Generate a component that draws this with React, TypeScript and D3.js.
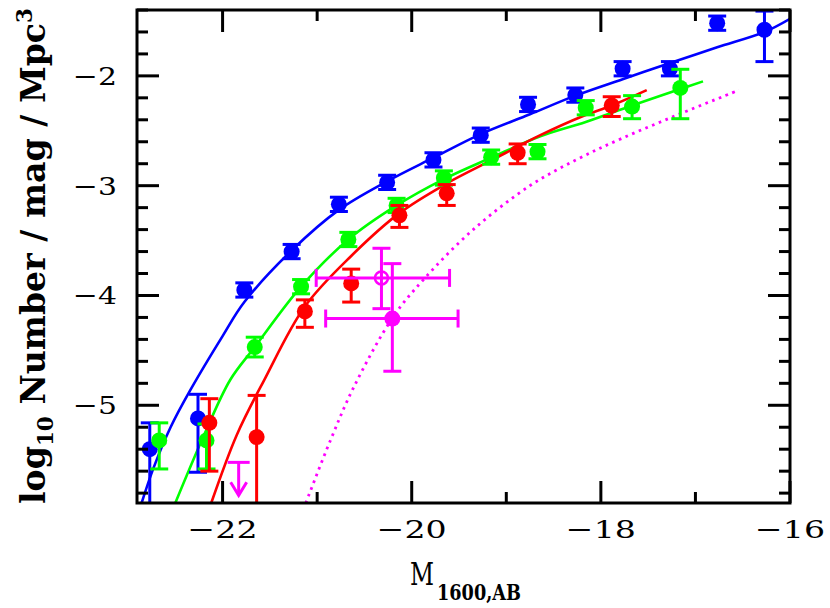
import React from 'react';
import * as d3 from 'd3';

// ---------- axes ----------
const xDomain = [-22.905, -16];
const yDomain = [-5.89, -1.4];
const xTickValues = [-22, -20, -18, -16];
const yTickValues = [-5, -4, -3, -2];

// ---------- blue data ----------
const blueM = [-22.77, -22.26, -21.77, -21.27, -20.77, -20.26, -19.77, -19.27, -18.77, -18.27, -17.77, -17.27, -16.77, -16.27];
const blueLogPhi = [-5.40, -5.12, -3.95, -3.60, -3.17, -2.97, -2.765, -2.54, -2.26, -2.175, -1.935, -1.935, -1.52, -1.58];
const blueHi = [-5.16, -4.90, -3.885, -3.535, -3.105, -2.905, -2.70, -2.475, -2.195, -2.11, -1.87, -1.87, -1.455, -1.41];
const blueLo = [-6.30, -5.61, -4.015, -3.665, -3.235, -3.035, -2.83, -2.605, -2.325, -2.24, -2.00, -2.00, -1.585, -1.87];

// ---------- green data ----------
const greenM = [-22.67, -22.17, -21.66, -21.17, -20.67, -20.16, -19.66, -19.16, -18.67, -18.16, -17.67, -17.16];
const greenLogPhi = [-5.32, -5.32, -4.47, -3.92, -3.49, -3.18, -2.93, -2.74, -2.69, -2.29, -2.28, -2.11];
const greenHi = [-5.16, -5.17, -4.38, -3.855, -3.425, -3.115, -2.865, -2.675, -2.625, -2.225, -2.18, -1.94];
const greenLo = [-5.58, -5.58, -4.56, -3.985, -3.555, -3.245, -2.995, -2.805, -2.755, -2.355, -2.39, -2.39];

// ---------- red data ----------
const redM = [-22.14, -21.64, -21.13, -20.64, -20.13, -19.63, -18.88, -17.885];
const redLogPhi = [-5.16, -5.29, -4.145, -3.89, -3.27, -3.07, -2.70, -2.27];
const redHi = [-4.94, -4.91, -4.04, -3.76, -3.18, -2.99, -2.62, -2.19];
const redLo = [-5.60, -6.50, -4.29, -4.06, -3.38, -3.18, -2.80, -2.37];

// ---------- magenta data ----------
const magM = [-20.32, -20.205];
const magLogPhi = [-3.84, -4.21];
const magMLo = [-21.01, -20.91];
const magMHi = [-19.60, -19.51];
const magHi = [-3.57, -3.71];
const magLo = [-4.12, -4.69];
const magFilled = [false, true];
const magLimitM = [-21.83];
const magLimitLogPhi = [-5.52];
const magLimitArrowTo = [-5.82];

// ---------- fitted curves ----------
const blueFitM = [-22.86, -22.73, -22.55, -22.34, -22.0, -21.77, -21.27, -20.77, -20.26, -19.77, -19.27, -18.75, -18.27, -17.77, -17.26, -16.77, -16.27, -16.0];
const blueFitLogPhi = [-5.90, -5.57, -5.20, -4.86, -4.37, -4.06, -3.59, -3.22, -2.96, -2.745, -2.53, -2.35, -2.18, -2.03, -1.88, -1.74, -1.60, -1.48];
const greenFitM = [-22.50, -22.2, -21.92, -21.66, -21.17, -20.67, -20.16, -19.66, -19.16, -18.64, -18.16, -17.67, -17.16, -16.92];
const greenFitLogPhi = [-5.89, -5.28, -4.77, -4.47, -3.92, -3.49, -3.18, -2.94, -2.745, -2.55, -2.42, -2.27, -2.12, -2.05];
const redFitM = [-22.12, -21.85, -21.56, -21.13, -20.64, -20.13, -19.63, -19.16, -18.64, -18.2, -17.885, -17.515];
const redFitLogPhi = [-5.89, -5.27, -4.77, -4.10, -3.64, -3.25, -2.98, -2.77, -2.54, -2.37, -2.27, -2.13];
const magFitM = [-21.12, -20.86, -20.61, -20.2, -19.87, -19.35, -18.75, -18.25, -17.78, -17.16, -16.54];
const magFitLogPhi = [-5.89, -5.32, -4.83, -4.2, -3.85, -3.40, -3.00, -2.76, -2.57, -2.345, -2.13];

const BLUE = '#0000ff';
const GREEN = '#00ff00';
const RED = '#ff0000';
const MAGENTA = '#ff00ff';

const L = 137, R = 790, T = 10, B = 503;

export default function App() {
  const x = d3.scaleLinear().domain(xDomain).range([L, R]);
  const y = d3.scaleLinear().domain(yDomain).range([B, T]);

  const fit = (ms: number[], ps: number[]) =>
    d3.line<number>()
      .x((_, i) => x(ms[i]))
      .y((_, i) => y(ps[i]))
      .curve(d3.curveCatmullRom.alpha(0.5))(ms) || '';

  const xMinor = x.ticks(9);
  const yMinor = y.ticks(20);
  const isMajor = (v: number, majors: number[]) => majors.some((m) => Math.abs(m - v) < 1e-6);

  const MAJ = 22, MIN = 11;
  const capHalf = 9;
  const r = 8;
  const sw = 3;

  const series = (ms: number[], ps: number[], hi: number[], lo: number[], color: string, key: string) => (
    <g key={key}>
      <g clipPath="url(#plotclip)" stroke={color} strokeWidth={sw} fill="none">
        {ms.map((m, i) => (
          <g key={i}>
            <line x1={x(m)} x2={x(m)} y1={y(hi[i])} y2={y(lo[i])} />
            <line x1={x(m) - capHalf} x2={x(m) + capHalf} y1={y(hi[i])} y2={y(hi[i])} />
            <line x1={x(m) - capHalf} x2={x(m) + capHalf} y1={y(lo[i])} y2={y(lo[i])} />
          </g>
        ))}
      </g>
      {ms.map((m, i) => (
        <circle key={i} cx={x(m)} cy={y(ps[i])} r={r} fill={color} />
      ))}
    </g>
  );

  return (
    <svg width={830} height={608} style={{ position: 'absolute', left: 0, top: 0, background: '#fff' }}>
      <defs>
        <clipPath id="plotclip">
          <rect x={L} y={T} width={R - L} height={B - T} />
        </clipPath>
      </defs>
      <rect x={0} y={0} width={830} height={608} fill="#fff" />

      {/* fitted curves */}
      <g clipPath="url(#plotclip)" fill="none" strokeWidth={2.6}>
        <path d={fit(blueFitM, blueFitLogPhi)} stroke={BLUE} />
        <path d={fit(greenFitM, greenFitLogPhi)} stroke={GREEN} />
        <path d={fit(redFitM, redFitLogPhi)} stroke={RED} />
        <path d={fit(magFitM, magFitLogPhi)} stroke={MAGENTA} strokeWidth={2.8} strokeDasharray="2.6 4.6" />
      </g>

      {series(blueM, blueLogPhi, blueHi, blueLo, BLUE, 'b')}
      {series(greenM, greenLogPhi, greenHi, greenLo, GREEN, 'g')}
      {series(redM, redLogPhi, redHi, redLo, RED, 'r')}

      {/* magenta points */}
      <g stroke={MAGENTA} strokeWidth={sw} fill="none">
        {magM.map((m, i) => (
          <g key={i}>
            <line x1={x(magMLo[i])} x2={x(magMHi[i])} y1={y(magLogPhi[i])} y2={y(magLogPhi[i])} />
            <line x1={x(magMLo[i])} x2={x(magMLo[i])} y1={y(magLogPhi[i]) - capHalf} y2={y(magLogPhi[i]) + capHalf} />
            <line x1={x(magMHi[i])} x2={x(magMHi[i])} y1={y(magLogPhi[i]) - capHalf} y2={y(magLogPhi[i]) + capHalf} />
            <line x1={x(m)} x2={x(m)} y1={y(magHi[i])} y2={y(magLo[i])} />
            <line x1={x(m) - capHalf} x2={x(m) + capHalf} y1={y(magHi[i])} y2={y(magHi[i])} />
            <line x1={x(m) - capHalf} x2={x(m) + capHalf} y1={y(magLo[i])} y2={y(magLo[i])} />
            {magFilled[i] ? (
              <circle cx={x(m)} cy={y(magLogPhi[i])} r={r} fill={MAGENTA} stroke="none" />
            ) : (
              <circle cx={x(m)} cy={y(magLogPhi[i])} r={r - 1.5} fill="none" stroke={MAGENTA} strokeWidth={2.5} />
            )}
          </g>
        ))}
        {magLimitM.map((m, i) => (
          <g key={'lim' + i}>
            <line x1={x(m) - 11} x2={x(m) + 11} y1={y(magLimitLogPhi[i])} y2={y(magLimitLogPhi[i])} />
            <line x1={x(m)} x2={x(m)} y1={y(magLimitLogPhi[i])} y2={y(magLimitArrowTo[i])} />
            <polyline
              points={`${x(m) - 8},${y(magLimitArrowTo[i]) - 13} ${x(m)},${y(magLimitArrowTo[i])} ${x(m) + 8},${y(magLimitArrowTo[i]) - 13}`}
            />
          </g>
        ))}
      </g>

      {/* ticks */}
      <g stroke="#000" strokeWidth={3}>
        {xMinor.map((v) => {
          const len = isMajor(v, xTickValues) ? MAJ : MIN;
          return (
            <g key={'xt' + v}>
              <line x1={x(v)} x2={x(v)} y1={B} y2={B - len} />
              <line x1={x(v)} x2={x(v)} y1={T} y2={T + len} />
            </g>
          );
        })}
        {yMinor.map((v) => {
          const len = isMajor(v, yTickValues) ? MAJ : MIN;
          return (
            <g key={'yt' + v}>
              <line x1={L} x2={L + len} y1={y(v)} y2={y(v)} />
              <line x1={R} x2={R - len} y1={y(v)} y2={y(v)} />
            </g>
          );
        })}
      </g>
      <rect x={L} y={T} width={R - L} height={B - T} fill="none" stroke="#000" strokeWidth={3} />

      {/* tick labels */}
      <g fontFamily="DejaVu Serif" fontSize={25} fill="#000">
        {xTickValues.map((v) => (
          <text key={'xl' + v} x={x(v)} y={538} textAnchor="middle" textLength={70} lengthAdjust="spacingAndGlyphs">
            {'\u2212' + Math.abs(v)}
          </text>
        ))}
        {yTickValues.map((v) => (
          <text key={'yl' + v} x={117} y={y(v) + 9} textAnchor="end" textLength={44} lengthAdjust="spacingAndGlyphs">
            {'\u2212' + Math.abs(v)}
          </text>
        ))}
      </g>

      {/* x title */}
      <text x={410} y={585} fontFamily="DejaVu Serif" fontSize={32} textLength={24} lengthAdjust="spacingAndGlyphs">M</text>
      <text x={437} y={600} fontFamily="DejaVu Serif" fontWeight="bold" fontSize={23} textLength={84} lengthAdjust="spacingAndGlyphs">1600,AB</text>

      {/* y title */}
      <text
        transform="translate(45,256) rotate(-90)"
        textAnchor="middle"
        fontFamily="DejaVu Serif"
        fontWeight="bold"
        fontSize={34}
        textLength={496}
        lengthAdjust="spacingAndGlyphs"
      >
        log<tspan fontSize={22} dy={8}>10</tspan>
        <tspan dy={-8}> Number / mag / Mpc</tspan>
        <tspan fontSize={22} dy={-13}>3</tspan>
      </text>
    </svg>
  );
}
